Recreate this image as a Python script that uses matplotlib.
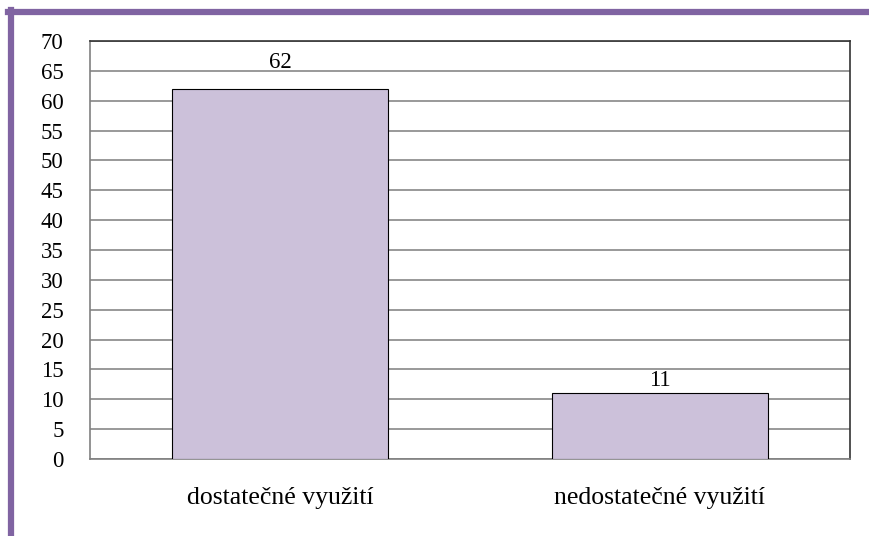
import matplotlib.pyplot as plt
from matplotlib.lines import Line2D

categories = ["dostatečné využití", "nedostatečné využití"]
values = [62, 11]
yticks = list(range(0, 75, 5))

# label distance above each bar, in points (the reference places them unevenly)
label_gap = [15, 5]

plt.rcParams['font.family'] = ['Liberation Serif', 'DejaVu Serif']

W, H = 870, 536
fig = plt.figure(figsize=(W / 100, H / 100), dpi=100)
ax = fig.add_axes([90 / W, 1 - 459 / H, 760 / W, 418 / H])

x = range(len(categories))
ax.bar(x, values, width=0.57, color="#CCC1DA", edgecolor="black", linewidth=0.8, zorder=3)
for xi, v, g in zip(x, values, label_gap):
    ax.annotate(str(v), (xi, v), xytext=(0, g), textcoords="offset points",
                ha="center", va="baseline", fontsize=16.5, zorder=4)

ax.set_xlim(-0.5, 1.5)
ax.set_ylim(0, 70)
ax.set_yticks(yticks)
ax.set_yticklabels([str(t) for t in yticks], fontsize=16.5)
ax.set_xticks(list(x))
ax.set_xticklabels(categories, fontsize=18.5)
ax.tick_params(axis="both", length=0)
ax.tick_params(axis="x", pad=20)
ax.tick_params(axis="y", pad=19)
ax.yaxis.grid(True, color="#888888", linewidth=1.2, zorder=0)
ax.set_axisbelow(True)
for s in ["left", "bottom"]:
    ax.spines[s].set_color("#808080")
    ax.spines[s].set_linewidth(1.2)
for s in ["top", "right"]:
    ax.spines[s].set_color("#333333")
    ax.spines[s].set_linewidth(1.2)

# purple frame along top and left edge
fig.add_artist(Line2D([8 / W, 1], [1 - 12 / H, 1 - 12 / H], color="#8064A2",
                      linewidth=4.5, transform=fig.transFigure))
fig.add_artist(Line2D([11 / W, 11 / W], [0, 1 - 10 / H], color="#8064A2",
                      linewidth=4.5, transform=fig.transFigure))

plt.savefig("out.png", dpi=100)
